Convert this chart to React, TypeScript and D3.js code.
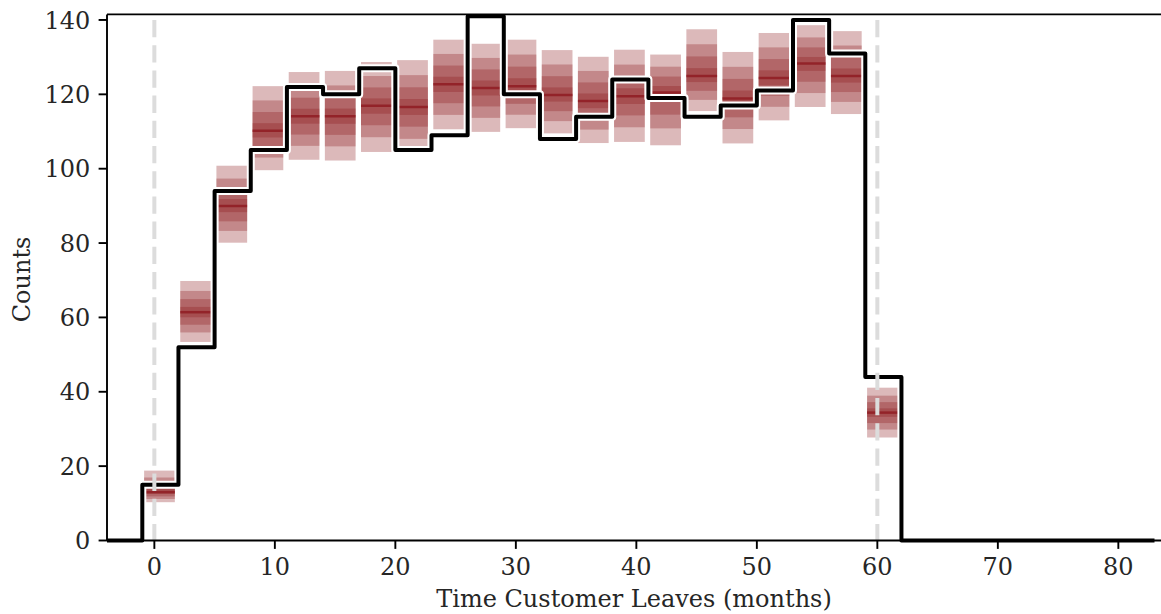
import React from 'react';
import * as d3 from 'd3';

// ---- data ----
const BIN_STARTS = [-1, 2, 5, 8, 11, 14, 17, 20, 23, 26, 29, 32, 35, 38, 41, 44, 47, 50, 53, 56, 59];
const BIN_WIDTH = 3;
const HIST_END = 83;
const OBSERVED = [15, 52, 94, 105, 122, 120, 127, 105, 109, 141, 120, 108, 114, 124, 119, 114, 117, 121, 140, 131, 44];
const PRED_LOW = [10.3, 53.4, 80.1, 99.6, 102.4, 102.2, 104.5, 104.0, 110.6, 109.9, 110.9, 109.5, 106.9, 107.2, 106.3, 115.5, 106.8, 113.0, 116.6, 114.7, 27.7];
const PRED_MEDIAN = [13.0, 61.4, 90.0, 110.2, 114.1, 114.1, 116.9, 116.6, 122.7, 121.7, 122.2, 119.8, 118.2, 119.5, 120.5, 124.9, 118.9, 124.4, 128.3, 124.9, 34.4];
const PRED_HIGH = [18.8, 69.8, 100.8, 122.2, 126.0, 126.3, 128.7, 129.2, 134.7, 133.6, 134.7, 131.9, 130.1, 132.0, 130.7, 137.5, 131.4, 136.5, 138.6, 137.0, 41.1];
const BAND_FRACTIONS = [1, 0.68, 0.42, 0.17];
const X_TICKS = [0, 10, 20, 30, 40, 50, 60, 70, 80];
const Y_TICKS = [0, 20, 40, 60, 80, 100, 120, 140];
const REF_LINES = [0, 60];
const X_LABEL = 'Time Customer Leaves (months)';
const Y_LABEL = 'Counts';

const W = 1161;
const H = 614;
const LEFT = 107;
const RIGHT = 1161;
const TOP = 14.4;
const BOTTOM = 540.5;
const FONT = '"DejaVu Serif", serif';
const FS = 24;
const TICK = 8.4;
const PAD = 8.4;

export default function App() {
  const x = d3.scaleLinear().domain([-3.93, 83.54]).range([LEFT, RIGHT]);
  const y = d3.scaleLinear().domain([0, 141.5]).range([BOTTOM, TOP]);

  const stepPts: [number, number][] = [[x.domain()[0], 0]];
  BIN_STARTS.forEach((s, i) => stepPts.push([s, OBSERVED[i]]));
  stepPts.push([BIN_STARTS[BIN_STARTS.length - 1] + BIN_WIDTH, 0]);
  stepPts.push([HIST_END, 0]);
  const line = d3
    .line<[number, number]>()
    .x((d) => x(d[0]))
    .y((d) => y(d[1]))
    .curve(d3.curveStepAfter);
  const stepPath = line(stepPts) || '';

  const boxes: React.ReactNode[] = [];
  BIN_STARTS.forEach((s, i) => {
    const m = PRED_MEDIAN[i];
    const lo = PRED_LOW[i];
    const hi = PRED_HIGH[i];
    const x0 = x(s + 0.15);
    const x1 = x(s + 2.7);
    BAND_FRACTIONS.forEach((f, j) => {
      const top = y(m + f * (hi - m));
      const bot = y(m - f * (m - lo));
      boxes.push(
        <rect key={`b${i}-${j}`} x={x0} y={top} width={x1 - x0} height={bot - top}
          fill="rgb(140,22,28)" fillOpacity={0.3} />
      );
    });
    boxes.push(
      <line key={`m${i}`} x1={x0} x2={x1} y1={y(m)} y2={y(m)} stroke="rgb(140,22,28)" strokeOpacity={0.75} strokeWidth={2.5} />
    );
  });

  return (
    <svg width={W} height={H} style={{ position: 'absolute', left: 0, top: 0, background: '#fff' }}
      fontFamily={FONT}>
      <defs>
        <clipPath id="plotclip">
          <rect x={LEFT} y={TOP} width={RIGHT - LEFT} height={BOTTOM - TOP + 4} />
        </clipPath>
      </defs>
      <rect x={0} y={0} width={W} height={H} fill="#fff" />
      <g clipPath="url(#plotclip)">
        {boxes}
        <path d={stepPath} fill="none" stroke="#fff" strokeWidth={8} strokeLinejoin="round" />
        <path d={stepPath} fill="none" stroke="#000" strokeWidth={4} strokeLinejoin="round" />
        {REF_LINES.map((v) => (
          <line key={`r${v}`} x1={x(v)} x2={x(v)} y1={y(140)} y2={y(0)} stroke="#dcdcdc"
            strokeWidth={4} strokeDasharray="17.3,7.9" />
        ))}
      </g>
      {/* spines */}
      <line x1={LEFT} x2={LEFT} y1={TOP} y2={BOTTOM} stroke="#000" strokeWidth={1.9} />
      <line x1={LEFT} x2={RIGHT} y1={BOTTOM} y2={BOTTOM} stroke="#000" strokeWidth={1.9} />
      <line x1={LEFT} x2={RIGHT} y1={TOP} y2={TOP} stroke="#000" strokeWidth={1.9} />
      {/* y ticks */}
      {Y_TICKS.map((t) => (
        <g key={`yt${t}`}>
          <line x1={LEFT - TICK} x2={LEFT} y1={y(t)} y2={y(t)} stroke="#000" strokeWidth={1.9} />
          <text x={LEFT - TICK - PAD} y={y(t)} dy="0.36em" textAnchor="end" fontSize={FS} fill="#262626">{t}</text>
        </g>
      ))}
      {/* x ticks */}
      {X_TICKS.map((t) => (
        <g key={`xt${t}`}>
          <line x1={x(t)} x2={x(t)} y1={BOTTOM} y2={BOTTOM + TICK} stroke="#000" strokeWidth={1.9} />
          <text x={x(t)} y={BOTTOM + TICK + PAD + 17.5} textAnchor="middle" fontSize={FS} fill="#262626">{t}</text>
        </g>
      ))}
      <text x={(LEFT + 1161) / 2} y={607} textAnchor="middle" fontSize={FS} fill="#262626">{X_LABEL}</text>
      <text transform={`translate(30, ${(TOP + BOTTOM) / 2 + 2}) rotate(-90)`} textAnchor="middle" fontSize={FS} fill="#262626">{Y_LABEL}</text>
    </svg>
  );
}
